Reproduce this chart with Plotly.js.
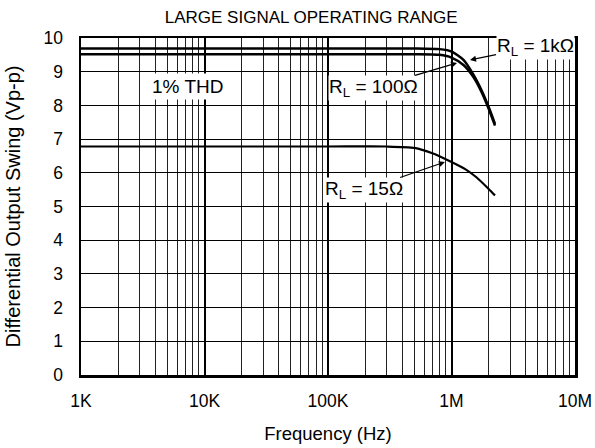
<!DOCTYPE html>
<html>
<head>
<meta charset="utf-8">
<script src="https://cdn.plot.ly/plotly-3.0.1.min.js"></script>
<style>html,body{margin:0;padding:0;background:#fff;}#chart{width:595px;height:448px;}</style>
</head>
<body>
<div id="chart"></div>
<script>
// Frequency (Hz)
const freq = [1e3, 1e5, 5e5, 8e5, 1e6, 1.25e6, 1.5e6, 1.75e6, 2e6, 2.25e6];
const swing1k = [9.69, 9.69, 9.69, 9.67, 9.6, 9.35, 8.92, 8.45, 7.95, 7.45];
const swing100 = [9.52, 9.52, 9.52, 9.5, 9.42, 9.2, 8.85, 8.4, 7.9, 7.4];
const freq15 = [1e3, 1e5, 3e5, 5e5, 7e5, 1e6, 1.3e6, 1.6e6, 2e6, 2.25e6];
const swing15 = [6.78, 6.78, 6.78, 6.74, 6.58, 6.32, 6.1, 5.86, 5.52, 5.33];
const xTickVals = [1e3, 1e4, 1e5, 1e6, 1e7];
const xTickText = ['1K', '10K', '100K', '1M', '10M'];
const yTickVals = [0,1,2,3,4,5,6,7,8,9,10];

const font = 'Liberation Sans, Arial, sans-serif';
const traces = [
  {x: freq, y: swing1k, mode: 'lines', line: {color: '#000', width: 2.5, shape: 'spline', smoothing: 0.6}, name: '1k'},
  {x: freq, y: swing100, mode: 'lines', line: {color: '#000', width: 2.5, shape: 'spline', smoothing: 0.6}, name: '100'},
  {x: freq15, y: swing15, mode: 'lines', line: {color: '#000', width: 2.2, shape: 'spline', smoothing: 0.6}, name: '15'}
];

const annBase = {showarrow: true, arrowhead: 2, arrowsize: 1, arrowwidth: 1.2, arrowcolor: '#000',
  bgcolor: '#fff', font: {family: font, size: 19, color: '#000'}, borderpad: 0};

const layout = {
  width: 595, height: 448,
  margin: {l: 81, r: 20, t: 38, b: 73},
  paper_bgcolor: '#fff', plot_bgcolor: '#fff',
  showlegend: false,
  font: {family: font, size: 17, color: '#000'},
  title: {text: 'LARGE SIGNAL OPERATING RANGE', font: {family: font, size: 17, color: '#000'},
          xref: 'container', x: 0.523, xanchor: 'center', yref: 'container', y: 0.963, yanchor: 'middle'},
  xaxis: {
    type: 'log', range: [3, 7], tickmode: 'array', tickvals: xTickVals, ticktext: xTickText,
    showgrid: true, gridcolor: '#000', gridwidth: 2,
    minor: {tickmode: 'linear', dtick: 'D1', showgrid: true, gridcolor: '#222', gridwidth: 1, ticks: ''},
    showline: true, mirror: true, linecolor: '#000', linewidth: 2.5,
    ticks: '', ticklabelstandoff: 8, zeroline: false,
    tickfont: {family: font, size: 17.5, color: '#000'},
    title: {text: 'Frequency (Hz)', font: {family: font, size: 18.5, color: '#000'}, standoff: 18}
  },
  yaxis: {
    range: [0, 10], tickmode: 'array', tickvals: yTickVals,
    showgrid: true, gridcolor: '#000', gridwidth: 1,
    showline: true, mirror: true, linecolor: '#000', linewidth: 2.5,
    ticks: '', ticklabelstandoff: 12, zeroline: false,
    tickfont: {family: font, size: 17.5, color: '#000'},
    title: {text: 'Differential Output Swing (Vp-p)', font: {family: font, size: 20, color: '#000'}, standoff: 18}
  },
  annotations: [
    Object.assign({}, annBase, {x: 6.15, y: 9.35, xref: 'x', yref: 'y', text: 'R<sub>L</sub> = 1kΩ', ax: 65, ay: -13}),
    Object.assign({}, annBase, {x: 6.045, y: 9.26, xref: 'x', yref: 'y', text: 'R<sub>L</sub> = 100Ω', ax: -84, ay: 25}),
    Object.assign({}, annBase, {x: 5.947, y: 6.32, xref: 'x', yref: 'y', text: 'R<sub>L</sub> = 15Ω', ax: -81, ay: 28}),
    {x: 3.865, y: 8.55, xref: 'x', yref: 'y', text: '1% THD', showarrow: false, bgcolor: '#fff',
     font: {family: font, size: 19, color: '#000'}, borderpad: 2}
  ]
};

Plotly.newPlot('chart', traces, layout, {staticPlot: true, displayModeBar: false});
</script>
</body>
</html>
